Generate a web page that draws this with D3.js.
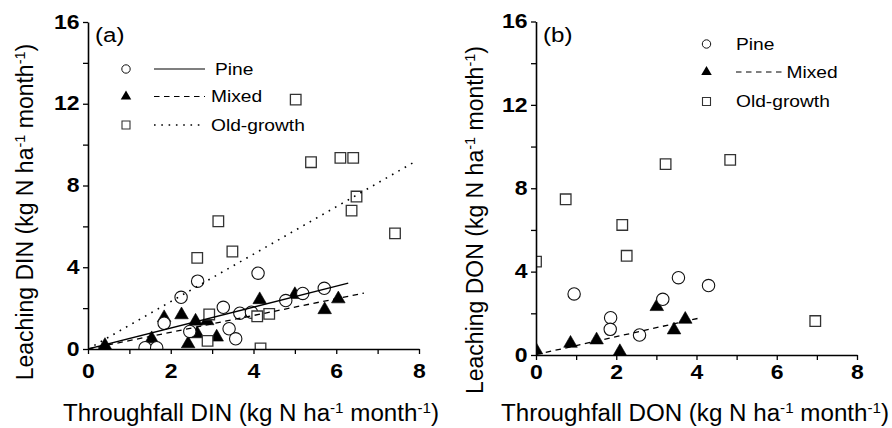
<!DOCTYPE html>
<html><head><meta charset="utf-8">
<script src="https://cdn.jsdelivr.net/npm/d3@7"></script>
<style>
body{margin:0;background:#fff}
svg{display:block}
text{font-family:"Liberation Sans",Arial,Helvetica,sans-serif;fill:#000}
</style>
</head><body>
<svg id="c" width="892" height="428"></svg>
<script>
// ---------- data ----------
const xTicks = [0,1,2,3,4,5,6,7,8];
const yTicks = [0,2,4,6,8,10,12,14,16];
const seriesNames = ["Pine","Mixed","Old-growth"];

// Panel (a): DIN
const pineA_x  = [1.38,1.66,1.84,2.25,2.46,2.65,3.27,3.41,3.57,3.67,3.95,4.11,4.78,5.19,5.71];
const pineA_y  = [0.06,0.06,1.26,2.53,0.86,3.32,2.04,0.99,0.50,1.75,1.80,3.71,2.37,2.72,2.97];
const mixedA_x = [0.41,1.54,1.84,2.26,2.42,2.60,2.64,2.88,3.11,4.15,5.00,5.72,6.05];
const mixedA_y = [0.17,0.50,1.53,1.67,0.25,1.36,0.74,1.38,0.58,2.41,2.66,1.92,2.45];
const oldA_x   = [2.64,2.89,2.93,3.15,3.49,4.09,4.17,4.38,5.02,5.39,6.10,6.41,6.37,6.49,7.42];
const oldA_y   = [4.46,0.40,1.69,6.25,4.77,1.60,0.03,1.72,12.2,9.14,9.35,9.35,6.77,7.46,5.66];
// fitted lines: [slope, intercept, xStart, xEnd]
const fitPineA  = [0.512, 0.0, 0, 6.29];
const fitMixedA = [0.410, 0.0, 0, 6.67];
const fitOldA   = [1.160, 0.0, 0, 7.95];

// Panel (b): DON
const pineB_x  = [0.95,1.86,1.85,2.58,3.16,3.55,4.30];
const pineB_y  = [2.93,1.79,1.23,0.96,2.67,3.71,3.33];
const mixedB_x = [0.00,0.86,1.51,2.09,3.01,3.44,3.72];
const mixedB_y = [0.24,0.56,0.72,0.16,2.32,1.20,1.71];
const oldB_x   = [0.00,0.74,2.15,2.26,3.23,4.84,6.96];
const oldB_y   = [4.48,7.47,6.24,4.76,9.16,9.36,1.63];
const fitMixedB = [0.43, 0.02, 0, 4.05];

// ---------- drawing ----------
const svg = d3.select("#c");
const FONT = '"Liberation Sans",Arial,Helvetica,sans-serif';
const TICK_SX = 1.18;

const dashStyles = {"Pine":null,"Mixed":"5.5,4.5","Old-growth":"1.6,5.7"};

function zip(xs, ys){ return xs.map((x,i)=>({x, y: ys[i]})); }

function drawPanel(cfg){
  const x = d3.scaleLinear().domain([0,8]).range([cfg.x0, cfg.x1]);
  const y = d3.scaleLinear().domain([0,16]).range([cfg.y0, cfg.y1]);
  const g = svg.append("g");
  const clipId = "clip" + cfg.id;
  svg.append("clipPath").attr("id", clipId).append("rect")
    .attr("x", cfg.x0).attr("y", cfg.y1 - 8)
    .attr("width", cfg.x1 - cfg.x0 + 10).attr("height", cfg.y0 - cfg.y1 + 8);

  const plot = g.append("g").attr("clip-path", `url(#${clipId})`);

  // triangles (Mixed)
  const tri = d3.symbol().type(d3.symbolTriangle).size(80);
  plot.selectAll("path.tri").data(zip(cfg.mixed[0], cfg.mixed[1])).join("path")
    .attr("class","tri").attr("d", tri)
    .attr("transform", d => `translate(${x(d.x)},${y(d.y)})`)
    .attr("fill","#000").attr("stroke","#000").attr("stroke-width",0.6);
  // circles (Pine)
  plot.selectAll("circle.pine").data(zip(cfg.pine[0], cfg.pine[1])).join("circle")
    .attr("class","pine").attr("cx", d=>x(d.x)).attr("cy", d=>y(d.y)).attr("r", 6.2)
    .attr("fill","#fff").attr("stroke","#111").attr("stroke-width",1.1);
  // squares (Old-growth)
  const sq = d3.symbol().type(d3.symbolSquare).size(112);
  plot.selectAll("path.sq").data(zip(cfg.old[0], cfg.old[1])).join("path")
    .attr("class","sq").attr("d", sq)
    .attr("transform", d => `translate(${x(d.x)},${y(d.y)})`)
    .attr("fill","#fff").attr("stroke","#333").attr("stroke-width",1.3);

  // fitted lines
  const line = d3.line().x(d=>x(d[0])).y(d=>y(d[1]));
  cfg.fits.forEach(([name, f]) => {
    const pts = [[f[2], f[1] + f[0]*f[2]], [f[3], f[1] + f[0]*f[3]]];
    plot.append("path").attr("d", line(pts)).attr("fill","none")
      .attr("stroke","#000").attr("stroke-width", name==="Old-growth"?1.6:1.3)
      .attr("stroke-dasharray", dashStyles[name]);
  });

  // axes
  const ax = g.append("g").attr("transform", `translate(0,${cfg.y0})`)
    .call(d3.axisBottom(x).tickValues(xTicks).tickFormat(d => d%2===0 ? d : "")
      .tickSize(5).tickSizeOuter(0).tickPadding(cfg.xPad));
  const ay = g.append("g").attr("transform", `translate(${cfg.x0},0)`)
    .call(d3.axisLeft(y).tickValues(yTicks).tickFormat(d => d%4===0 ? d : "")
      .tickSize(5).tickSizeOuter(0).tickPadding(3.5));
  [ax, ay].forEach(a => {
    a.select(".domain").attr("stroke","#000").attr("stroke-width",1.6);
    a.selectAll(".tick line").attr("stroke","#000").attr("stroke-width",1.3);
    a.selectAll(".tick text").attr("font-family", FONT).attr("font-size", 19.5)
      .attr("font-weight","bold").attr("fill","#000")
      .each(function(){
        const t = d3.select(this);
        const xv = +t.attr("x") || 0;
        t.attr("x", xv / TICK_SX).attr("transform", `scale(${TICK_SX},1)`);
      });
  });

  // panel label
  svg.append("text").attr("x", 0).attr("y", 0)
    .attr("font-size", 21).text(cfg.label)
    .attr("transform", `translate(${cfg.x0 + 7},${cfg.y1 + 20}) scale(1.15,1)`);

  // axis titles
  function rich(sel, parts){
    parts.forEach(([t, sup], i) => {
      const ts = sel.append("tspan").text(t);
      if (sup){ ts.attr("font-size", 14.5).attr("dy", -8.5); }
      else { ts.attr("font-size", 23).attr("dy", i>0 ? 8.5 : 0); }
    });
  }
  const xt = svg.append("text").attr("text-anchor","middle")
    .attr("transform", `translate(${cfg.xTitleX},421) scale(1.05,1)`);
  rich(xt, [["Throughfall " + cfg.nut + " (kg N ha"],["-1",true],[" month"],["-1",true],[")"]]);
  const yt = svg.append("text").attr("text-anchor","middle")
    .attr("transform", `translate(${cfg.yTitleX},${cfg.yTitleY}) rotate(-90)`);
  rich(yt, [["Leaching " + cfg.nut + " (kg N ha"],["-1",true],[" month"],["-1",true],[")"]]);

  return {x, y};
}

drawPanel({id:"a", label:"(a)", nut:"DIN", x0:88, x1:419, y0:349, y1:22, xPad:10,
  pine:[pineA_x,pineA_y], mixed:[mixedA_x,mixedA_y], old:[oldA_x,oldA_y],
  fits:[["Pine",fitPineA],["Mixed",fitMixedA],["Old-growth",fitOldA]],
  xTitleX:251, yTitleX:33, yTitleY:212});
drawPanel({id:"b", label:"(b)", nut:"DON", x0:536, x1:857, y0:355, y1:21.5, xPad:5,
  pine:[pineB_x,pineB_y], mixed:[mixedB_x,mixedB_y], old:[oldB_x,oldB_y],
  fits:[["Mixed",fitMixedB]],
  xTitleX:695, yTitleX:483, yTitleY:220});

// ---------- legends ----------
function legend(items){
  items.forEach(it => {
    const g = svg.append("g");
    if (it.sym === "circle") g.append("circle").attr("cx", it.mx).attr("cy", it.y).attr("r", 4.2)
      .attr("fill","#fff").attr("stroke","#111").attr("stroke-width",1);
    if (it.sym === "tri") g.append("path").attr("d", d3.symbol().type(d3.symbolTriangle).size(48)())
      .attr("transform", `translate(${it.mx},${it.y})`).attr("fill","#000");
    if (it.sym === "sq") g.append("path").attr("d", d3.symbol().type(d3.symbolSquare).size(64)())
      .attr("transform", `translate(${it.mx},${it.y})`).attr("fill","#fff").attr("stroke","#333").attr("stroke-width",1.1);
    if (it.l0 != null) g.append("line").attr("x1", it.l0).attr("x2", it.l1).attr("y1", it.y).attr("y2", it.y)
      .attr("stroke","#000").attr("stroke-width", it.name==="Old-growth"?1.4:1.1)
      .attr("stroke-dasharray", dashStyles[it.name]);
    g.append("text").attr("x", 0).attr("y", 0).attr("dy","0.36em").attr("font-size", 16)
      .attr("transform", `translate(${it.tx},${it.y}) scale(1.2,1)`).text(it.name);
  });
}
const syms = ["circle","tri","sq"];
legend(seriesNames.map((n,i)=>({name:n, sym:syms[i], mx:126, y:[69,96.5,125][i],
  l0:154, l1:205, tx:[215,211,211][i]})));
legend(seriesNames.map((n,i)=>({name:n, sym:syms[i], mx:706.5, y:[44,72,101.5][i],
  l0: n==="Mixed"?736:null, l1:784, tx:[736,786.5,736][i]})));
</script>
</body></html>
